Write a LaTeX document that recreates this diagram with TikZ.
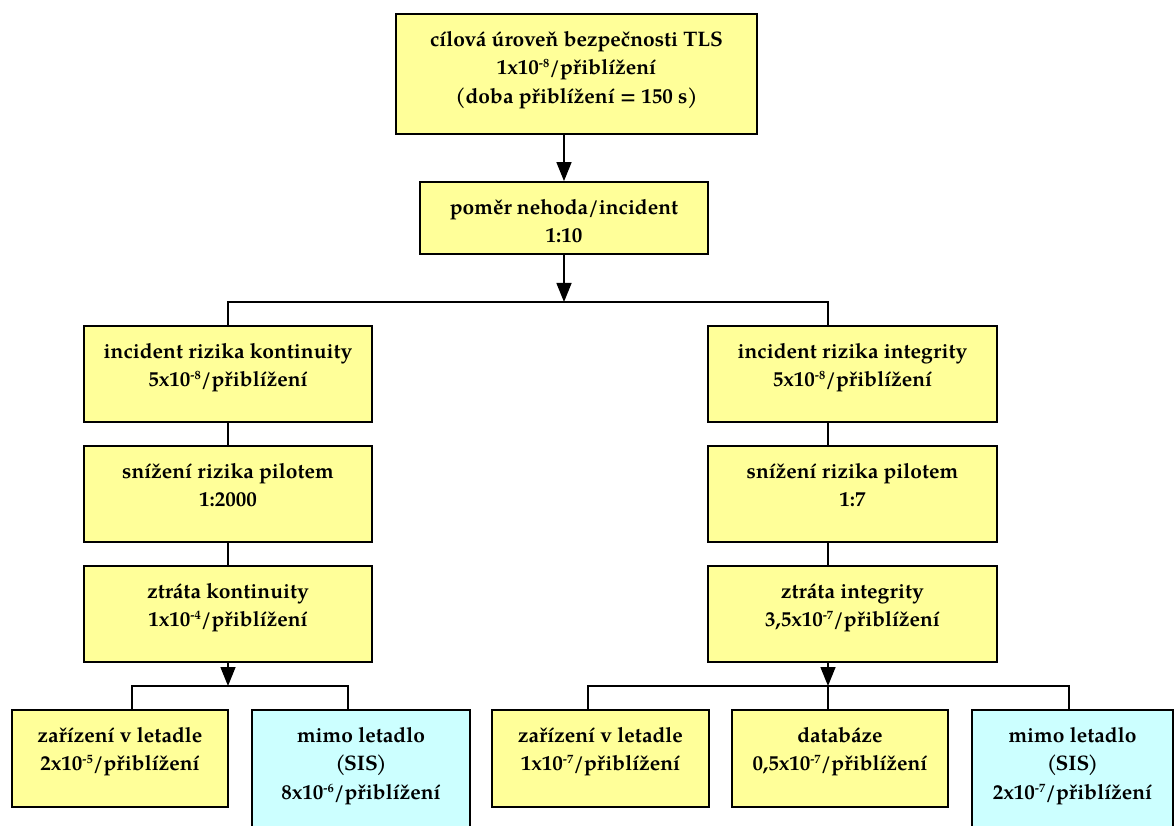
\documentclass[tikz,border=0pt]{standalone}
\usepackage{fontspec}
\setmainfont{TeX Gyre Pagella}
\usetikzlibrary{arrows.meta}
\definecolor{boxyellow}{RGB}{255,255,153}
\definecolor{boxcyan}{RGB}{204,255,255}
\tikzset{
  every picture/.style={x=1pt,y=-1pt},
  box/.style={draw=black, line width=1.8pt, rectangle, inner sep=0pt, fill=boxyellow},
  sisbox/.style={box, fill=boxcyan},
  txt/.style={anchor=north, inner sep=0pt, align=center,
    font=\fontsize{21}{28.5}\selectfont\bfseries},
  link/.style={line width=1.5pt, draw=black},
  arr/.style={link, -{Triangle[width=15pt,length=19pt]}}
}
% small raised exponent
\newcommand{\expo}[1]{\raisebox{7pt}{\fontsize{12.5}{12.5}\selectfont #1}}
\newcommand{\boxlabel}[2]{\node[txt] (#1) at ([yshift=-13pt]#2.north) }
\begin{document}
\begin{tikzpicture}
\useasboundingbox (0,0) rectangle (1176,826);
\clip (0,0) rectangle (1176,826);

% tree of boxes
\node[box, minimum width=361pt, minimum height=120pt] (b1) at (576.5,74) {};
\node[box, minimum width=288pt, minimum height=72pt] (b2) at (564,218) {};
\node[box, minimum width=288pt, minimum height=96pt] (b3) at (228,374) {};
\node[box, minimum width=289pt, minimum height=96pt] (b4) at (852.5,374) {};
\node[box, minimum width=288pt, minimum height=96pt] (b5) at (228,494) {};
\node[box, minimum width=289pt, minimum height=96pt] (b6) at (852.5,494) {};
\node[box, minimum width=288pt, minimum height=96pt] (b7) at (228,614) {};
\node[box, minimum width=289pt, minimum height=96pt] (b8) at (852.5,614) {};
\node[box, minimum width=216pt, minimum height=97pt] (b9) at (120,758.5) {};
\node[sisbox, minimum width=218pt, minimum height=140pt] (b10) at (361,780) {};
\node[box, minimum width=217pt, minimum height=97pt] (b11) at (600.5,758.5) {};
\node[box, minimum width=216pt, minimum height=97pt] (b12) at (840,758.5) {};
\node[sisbox, minimum width=201pt, minimum height=140pt] (b13) at (1072.5,780) {};

% texts, first baseline a fixed distance below each box top
\boxlabel{t1}{b1}{\strut cílová úroveň bezpečnosti TLS\\1x10\expo{-8}/přiblížení\\(doba přiblížení = 150 s)};
\boxlabel{t2}{b2}{\strut poměr nehoda/incident\\1:10};
\boxlabel{t3}{b3}{\strut incident rizika kontinuity\\5x10\expo{-8}/přiblížení};
\boxlabel{t4}{b4}{\strut incident rizika integrity\\5x10\expo{-8}/přiblížení};
\boxlabel{t5}{b5}{\strut snížení rizika pilotem\\1:2000};
\boxlabel{t6}{b6}{\strut snížení rizika pilotem\\1:7};
\boxlabel{t7}{b7}{\strut ztráta kontinuity\\1x10\expo{-4}/přiblížení};
\boxlabel{t8}{b8}{\strut ztráta integrity\\3,5x10\expo{-7}/přiblížení};
\boxlabel{t9}{b9}{\strut zařízení v letadle\\2x10\expo{-5}/přiblížení};
\boxlabel{t10}{b10}{\strut mimo letadlo\\(\kern-1.5pt SIS\kern-1.5pt)\\8x10\expo{-6}/přiblížení};
\boxlabel{t11}{b11}{\strut zařízení v letadle\\1x10\expo{-7}/přiblížení};
\boxlabel{t12}{b12}{\strut databáze\\0,5x10\expo{-7}/přiblížení};
\boxlabel{t13}{b13}{\strut mimo letadlo\\(\kern-1.5pt SIS\kern-1.5pt)\\2x10\expo{-7}/přiblížení};

% branching points
\coordinate (j1) at (564,302);
\coordinate (j1l) at (228,302);
\coordinate (j1r) at (828,302);
\coordinate (j2) at (228,686);
\coordinate (j2l) at (132,686);
\coordinate (j2r) at (348,686);
\coordinate (j3) at (828,686);
\coordinate (j3l) at (588,686);
\coordinate (j3r) at (1069,686);

% connectors
\draw[arr] (b1.south -| b2.north) -- (b2.north);
\draw[arr] (b2.south) -- (j1);
\draw[link] (b3.north -| j1l) -- (j1l) -- (j1r) -- (b4.north -| j1r);
\draw[link] (b3.south) -- (b5.north);
\draw[link] (b5.south) -- (b7.north);
\draw[link] (b4.south -| j1r) -- (b6.north -| j1r);
\draw[link] (b6.south -| j1r) -- (b8.north -| j1r);
\draw[arr] (b7.south) -- (j2);
\draw[link] (b9.north -| j2l) -- (j2l) -- (j2r) -- (b10.north -| j2r);
\draw[arr] (b8.south -| j3) -- (j3);
\draw[link] (b11.north -| j3l) -- (j3l) -- (j3r) -- (b13.north -| j3r);
\draw[link] (j3) -- (b12.north -| j3);
\end{tikzpicture}
\end{document}
